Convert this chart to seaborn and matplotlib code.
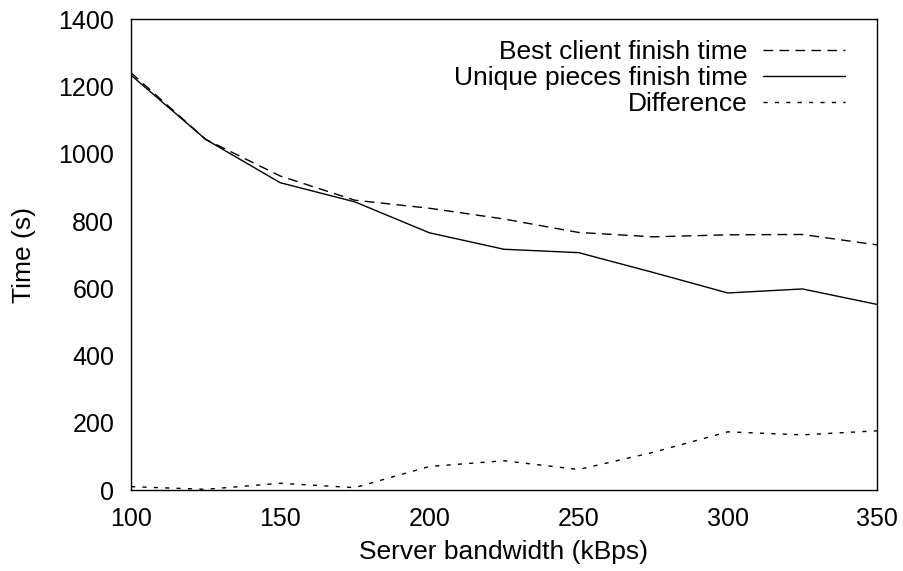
import matplotlib
matplotlib.use("Agg")
import matplotlib.pyplot as plt
import seaborn as sns
import pandas as pd

# Finish times measured at each server upload bandwidth
bandwidth = [100, 125, 150, 175, 200, 225, 250, 275, 300, 325, 350]
best_client = [1241, 1043, 934, 862, 838, 806, 766, 753, 759, 760, 729]
unique_pieces = [1234, 1043, 914, 857, 765, 716, 706, 647, 586, 598, 552]
difference = [10, 2, 20, 7, 70, 87, 61, 112, 173, 164, 176]

series_labels = ["Best client finish time", "Unique pieces finish time", "Difference"]
x_ticks = [100, 150, 200, 250, 300, 350]
y_ticks = [0, 200, 400, 600, 800, 1000, 1200, 1400]

sns.set_style("white")
plt.rcParams["font.family"] = ["Liberation Sans", "DejaVu Sans"]
plt.rcParams["font.size"] = 18
plt.rcParams["text.color"] = "black"
plt.rcParams["axes.labelcolor"] = "black"

fig = plt.figure(figsize=(9.04, 5.71), dpi=100)
ax = fig.add_axes([131 / 904, 1 - 490 / 571, 746 / 904, 470.7 / 571])

df = pd.DataFrame({
    "bw": bandwidth * 3,
    "time": best_client + unique_pieces + difference,
    "series": [series_labels[0]] * len(bandwidth)
    + [series_labels[1]] * len(bandwidth)
    + [series_labels[2]] * len(bandwidth),
})

sns.lineplot(
    data=df, x="bw", y="time", style="series", style_order=series_labels,
    dashes={series_labels[0]: (7, 4.5), series_labels[1]: "", series_labels[2]: (3, 5.2)},
    color="black", linewidth=1.0, ax=ax, legend=True,
)

ax.set_xlim(100, 350)
ax.set_ylim(0, 1400)
ax.set_xticks(x_ticks)
ax.set_yticks(y_ticks)
ax.tick_params(axis="both", direction="in", length=6, width=1, color="#555555",
               labelsize=18, labelcolor="black")
ax.tick_params(axis="x", pad=12)
ax.tick_params(axis="y", pad=12)
for s in ax.spines.values():
    s.set_color("black")
    s.set_linewidth(1.0)

ax.set_xlabel("Server bandwidth (kBps)", fontsize=19, labelpad=7, color="black")
ax.set_ylabel("Time (s)", fontsize=19, labelpad=16, color="black")

handles, labels = ax.get_legend_handles_labels()
leg = ax.legend(handles, labels, loc="upper right", bbox_to_anchor=(0.957, 0.955),
                markerfirst=False, frameon=False, handlelength=3.1, handletextpad=0.6,
                labelspacing=0.065, borderaxespad=0, borderpad=0, fontsize=19)
for t in leg.get_texts():
    t.set_color("black")

fig.savefig("out.png", dpi=100)
